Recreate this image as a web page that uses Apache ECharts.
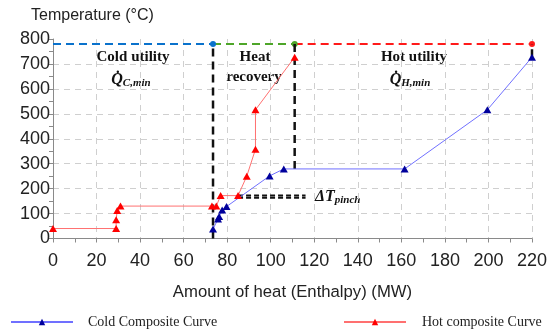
<!DOCTYPE html>
<html><head><meta charset="utf-8">
<script src="https://cdn.jsdelivr.net/npm/echarts@6/dist/echarts.min.js"></script>
<style>html,body{margin:0;padding:0;background:#fff}#c{width:550px;height:330px}</style>
</head><body><div id="c"></div>
<script>
// ---- data ----
const hotX = [0, 29, 29, 29.5, 31, 73, 75, 77, 85, 89, 93, 93, 111];
const hotT = [40, 40, 75, 112, 130, 130, 130, 172, 172, 250, 358, 516, 727];
const coldX = [73.5, 75.8, 76.3, 77.7, 79.7, 99.5, 106, 161.5, 199.5, 220];
const coldT = [38, 78, 88, 114, 128, 251, 279, 279, 516, 727];
const utilT = 780;
const coldUtilX = [0, 73.5];
const recoveryX = [73.5, 111];
const hotUtilX = [111, 220];
const pinchX = [85, 116];
const pinchT = [172, 163];
const vLine1X = 73.5, vLine1T = [0, 780];
const vLine2X = 111, vLine2T = [279, 780];
const vLine3X = 220, vLine3T = [727, 780];
const xMin = 0, xMax = 220, xStep = 20;
const yMin = 0, yMax = 800, yStep = 100;

const pts = (xs, ys) => xs.map((x, i) => [x, ys[i]]);
const serif = '"Liberation Serif", "Times New Roman", serif';
const sans = '"Liberation Sans", Arial, sans-serif';

function dashSeg(data, color, width, dash, z, endDotOnly) {
  return {
    type: 'line', data: data.map((p, i) => ({value: p, symbolSize: endDotOnly && i === data.length - 1 ? 6 : 0})),
    symbol: 'circle', showSymbol: true, itemStyle: {color: color},
    lineStyle: {color: color, width: width, type: dash}, z: z, silent: true, animation: false
  };
}

const chart = echarts.init(document.getElementById('c'));
const option = {
  animation: false,
  title: {text: 'Temperature (°C)', left: 26, top: 3,
    textStyle: {fontFamily: sans, fontSize: 16, fontWeight: 'normal', color: '#222'}},
  grid: {left: 53, right: 17, top: 39, bottom: 91.5},
  xAxis: {type: 'value', min: xMin, max: xMax, interval: xStep,
    name: 'Amount of heat (Enthalpy) (MW)', nameLocation: 'middle', nameGap: 45,
    nameTextStyle: {fontFamily: sans, fontSize: 16.7, color: '#222'},
    axisLine: {show: true, lineStyle: {color: '#8a8a8a', width: 1}},
    axisTick: {show: true, length: 4, lineStyle: {color: '#8a8a8a'}},
    minorTick: {show: true, splitNumber: 2, length: 4, lineStyle: {color: '#8a8a8a'}},
    axisLabel: {fontFamily: sans, fontSize: 18, color: '#222', margin: 14},
    splitLine: {show: true, lineStyle: {color: '#cfcfcf', type: [6, 5], width: 1}}
  },
  yAxis: {type: 'value', min: yMin, max: yMax, interval: yStep,
    axisLine: {show: true, lineStyle: {color: '#8a8a8a', width: 1}},
    axisTick: {show: true, length: 4, lineStyle: {color: '#8a8a8a'}},
    minorTick: {show: true, splitNumber: 2, length: 4, lineStyle: {color: '#8a8a8a'}},
    axisLabel: {fontFamily: sans, fontSize: 18, color: '#222', margin: 3},
    splitLine: {show: true, showMaxLine: false, lineStyle: {color: '#cfcfcf', type: [6, 5], width: 1}}
  },
  legend: [
    {data: ['Cold Composite Curve'], left: 5, top: 310, itemWidth: 62, itemHeight: 8, itemGap: 0,
      textStyle: {fontFamily: serif, fontSize: 14, color: '#222', padding: [0, 0, 0, 10]}},
    {data: ['Hot composite Curve'], left: 338, top: 310, itemWidth: 62, itemHeight: 8, itemGap: 0,
      textStyle: {fontFamily: serif, fontSize: 14, color: '#222', padding: [0, 0, 0, 11]}}
  ],
  series: [
    dashSeg(pts(coldUtilX, [utilT, utilT]), '#0a72cc', 2, [8, 5], 3, true),
    dashSeg(pts(recoveryX, [utilT, utilT]), '#4ea629', 2, [8, 5], 3, true),
    dashSeg(pts(hotUtilX, [utilT, utilT]), '#ff1a1a', 2, [8, 5], 3, true),
    dashSeg([[vLine1X, vLine1T[0]], [vLine1X, vLine1T[1]]], '#111', 2.5, [8, 5], 4, false),
    dashSeg([[vLine2X, vLine2T[0]], [vLine2X, vLine2T[1]]], '#111', 2.5, [8, 5], 4, false),
    dashSeg([[vLine3X, vLine3T[0]], [vLine3X, vLine3T[1]]], '#111', 2.5, [8, 5], 4, false),
    dashSeg([[pinchX[0], pinchT[0]], [pinchX[1], pinchT[0]]], '#111', 2, [5, 3], 4, false),
    dashSeg([[pinchX[0], pinchT[1]], [pinchX[1], pinchT[1]]], '#111', 2, [5, 3], 4, false),
    {name: 'Cold Composite Curve', type: 'line', data: pts(coldX, coldT),
      symbol: 'triangle', symbolSize: [8, 7], itemStyle: {color: '#00009c'},
      lineStyle: {color: '#7070ff', width: 1}, z: 5},
    {name: 'Hot composite Curve', type: 'line', data: pts(hotX, hotT),
      symbol: 'triangle', symbolSize: [8, 7], itemStyle: {color: '#ff0000'},
      lineStyle: {color: '#ff7070', width: 1}, z: 6}
  ],
  graphic: [
    {type: 'text', x: 133, y: 57, style: {text: 'Cold utility', font: 'bold 15px ' + serif, fill: '#111', textAlign: 'center', textVerticalAlign: 'middle'}},
    {type: 'text', x: 131, y: 80, style: {text: '{q|Q\u0307}{s|C,min}', textAlign: 'center', textVerticalAlign: 'middle',
      rich: {q: {font: 'italic bold 16px ' + serif, fill: '#111'}, s: {font: 'italic bold 11px ' + serif, fill: '#111', padding: [7, 0, 0, 0]}}}},
    {type: 'text', x: 255, y: 57, style: {text: 'Heat', font: 'bold 15px ' + serif, fill: '#111', textAlign: 'center', textVerticalAlign: 'middle'}},
    {type: 'text', x: 254, y: 77, style: {text: 'recovery', font: 'bold 15px ' + serif, fill: '#111', textAlign: 'center', textVerticalAlign: 'middle'}},
    {type: 'text', x: 414, y: 57, style: {text: 'Hot utility', font: 'bold 15px ' + serif, fill: '#111', textAlign: 'center', textVerticalAlign: 'middle'}},
    {type: 'text', x: 410, y: 80, style: {text: '{q|Q\u0307}{s|H,min}', textAlign: 'center', textVerticalAlign: 'middle',
      rich: {q: {font: 'italic bold 16px ' + serif, fill: '#111'}, s: {font: 'italic bold 11px ' + serif, fill: '#111', padding: [7, 0, 0, 0]}}}},
    {type: 'text', x: 315, y: 197, style: {text: '{q|\u0394T}{s|pinch}', textAlign: 'left', textVerticalAlign: 'middle',
      rich: {q: {font: 'italic bold 16px ' + serif, fill: '#111'}, s: {font: 'italic bold 11px ' + serif, fill: '#111', padding: [7, 0, 0, 0]}}}}
  ]
};
chart.setOption(option);
</script></body></html>
